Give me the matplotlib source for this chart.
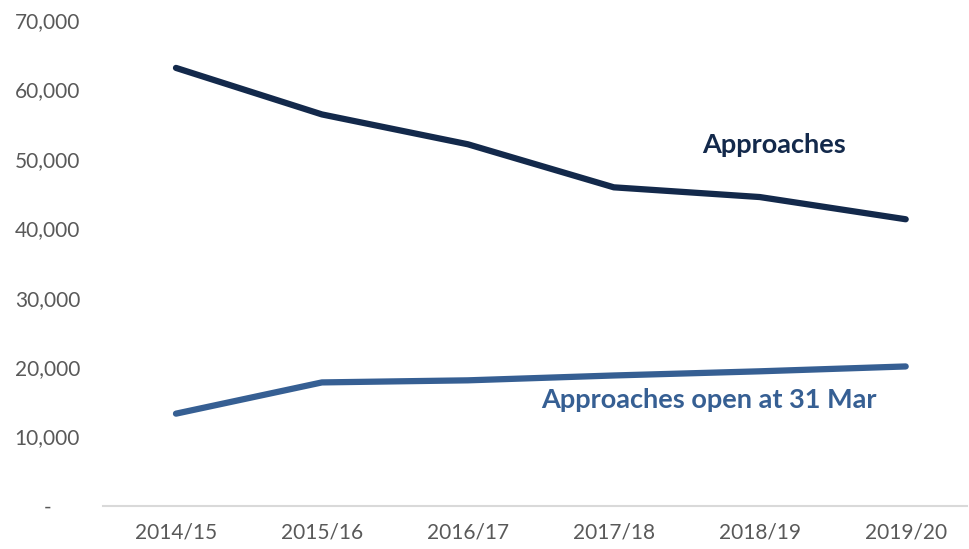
import matplotlib
matplotlib.use('Agg')
from matplotlib import pyplot as plt
from matplotlib.ticker import FuncFormatter

years = ['2014/15', '2015/16', '2016/17', '2017/18', '2018/19', '2019/20']
approaches = [63100, 56400, 52100, 45900, 44500, 41300]
open_at_31_mar = [13300, 17800, 18100, 18800, 19400, 20100]

navy = '#13294b'
blue = '#365f93'

plt.rcParams['font.family'] = ['Lato', 'DejaVu Sans']

fig = plt.figure(figsize=(9.69, 5.49), dpi=100)
ax = fig.add_axes([103 / 969, 43 / 549, 864 / 969, 486 / 549])

x = range(len(years))
ax.plot(x, approaches, color=navy, lw=4.5, solid_capstyle='round', solid_joinstyle='round')
ax.plot(x, open_at_31_mar, color=blue, lw=4.5, solid_capstyle='round', solid_joinstyle='round')

ax.set_xlim(-0.5, 5.42)
ax.set_ylim(0, 70000)
ax.set_yticks(range(0, 70001, 10000))
ax.yaxis.set_major_formatter(FuncFormatter(lambda v, p: '-' if v == 0 else f'{int(v):,}'))
ax.set_xticks(list(x))
ax.set_xticklabels(years)

for s in ['top', 'right', 'left']:
    ax.spines[s].set_visible(False)
ax.spines['bottom'].set_color('#d9d9d9')
ax.spines['bottom'].set_linewidth(1.5)
ax.tick_params(axis='both', length=0, labelsize=15, colors='#595959')
ax.tick_params(axis='y', pad=40)
ax.tick_params(axis='x', pad=12)
for lbl in ax.get_yticklabels():
    lbl.set_horizontalalignment('center')

ax.text(4.1, 52000, 'Approaches', color=navy, fontsize=19.5, fontweight='bold', ha='center', va='center')
ax.text(3.65, 15300, 'Approaches open at 31 Mar', color=blue, fontsize=19.5, fontweight='bold', ha='center', va='center')

fig.savefig('out.png', dpi=100)
